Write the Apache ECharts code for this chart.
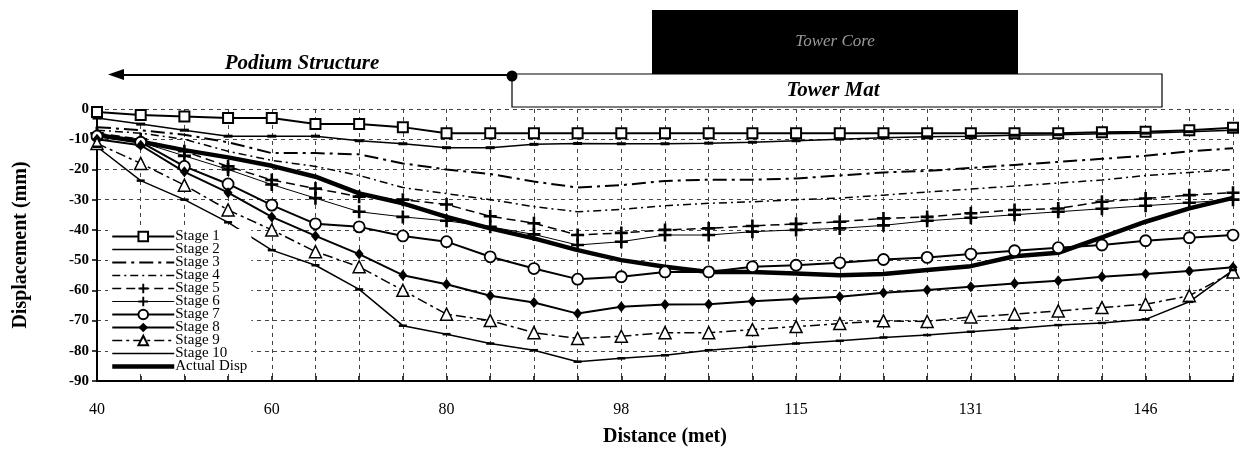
<!DOCTYPE html>
<html>
<head>
<meta charset="utf-8">
<script src="https://cdn.jsdelivr.net/npm/echarts@6/dist/echarts.min.js"></script>
<style>html,body{margin:0;padding:0;background:#fff}#c{width:1242px;height:452px}</style>
</head>
<body>
<div id="c"></div>
<script>
// Distance categories (only every 4th label is shown on the axis)
var distances = ['40','45','50','55','60','65','70','75','80','84','89','93','98','102','107','111','115','119','123','127','131','135','139','142','146','150','154'];
var yTicks = [0,-10,-20,-30,-40,-50,-60,-70,-80,-90];

var stage1 = [-1,-2,-2.5,-3,-3,-5,-5,-6,-8,-8,-8,-8,-8,-8,-8,-8,-8,-8,-8,-8,-8,-8,-8,-7.7,-7.5,-7,-6.2];
var stage2 = [-3,-5,-7,-9,-9,-9,-10.5,-11.5,-12.8,-12.8,-11.7,-11.4,-11.5,-11.5,-11.3,-11,-10.5,-10,-9.5,-9.2,-9,-8.7,-8.5,-8.2,-8,-7.5,-7];
var stage3 = [-6,-7,-8.5,-11,-14.6,-14.6,-15,-18,-20,-21.5,-24,-26,-25.2,-23.8,-23.4,-23.4,-23,-22,-21,-20.5,-19.5,-18.5,-17.5,-16.5,-15.5,-14,-13];
var stage4 = [-7,-8,-10,-14,-17,-19,-22,-26,-28,-30,-32.3,-34,-33.2,-32,-31.2,-30.7,-30,-29.5,-28.5,-27.5,-26.5,-25.5,-24.5,-23.5,-22,-21,-20];
var stage5 = [-8,-10,-14,-19,-23.5,-26.3,-29,-30,-31.6,-35.5,-37.8,-41.7,-41,-40,-39.5,-38.7,-38,-37.3,-36.2,-35.7,-34.5,-33.4,-32.9,-30.7,-29.6,-28.5,-27.7];
var stage6 = [-8,-11,-15.5,-20,-25,-29.5,-34,-35.7,-37,-39,-41.5,-45,-43.9,-41.7,-41.7,-40.6,-40,-39.5,-38.5,-37,-36,-35,-34,-33,-32,-31,-30];
var stage7 = [-9,-11,-19,-24.8,-31.8,-38,-39,-42,-43.9,-48.9,-52.8,-56.3,-55.5,-53.9,-53.9,-52.2,-51.7,-50.9,-49.8,-49.1,-48,-46.9,-45.9,-45,-43.6,-42.6,-41.7];
var stage8 = [-10,-12,-20.8,-27.7,-35.7,-42,-48,-55,-58,-61.8,-64,-67.7,-65.4,-64.7,-64.6,-63.6,-62.9,-62.1,-60.8,-59.9,-58.8,-57.7,-56.8,-55.5,-54.6,-53.6,-52.4];
var stage9 = [-11.4,-18,-25.2,-33.4,-40,-47.2,-52.2,-60,-67.9,-70,-74,-75.9,-75.2,-74,-74,-73,-72,-71,-70.1,-70.3,-68.8,-67.9,-66.8,-65.7,-64.6,-61.8,-53.9];
var stage10 = [-12.5,-23.7,-30,-37.5,-46.7,-51.7,-59.7,-71.7,-74.5,-77.6,-79.8,-83.6,-82.5,-81.5,-79.8,-78.7,-77.6,-76.7,-75.6,-74.8,-73.7,-72.6,-71.5,-70.8,-69.6,-63.8,-53.3];
var actualDisp = [-8.6,-10.8,-13.6,-16,-18.8,-22.4,-27.9,-31.2,-35.7,-39.5,-42.8,-46.7,-50,-52.2,-53.9,-53.9,-54.4,-55,-54.6,-53.3,-52,-48.7,-47.6,-42.5,-37.3,-32.9,-29.4];

var seriesNames = ['Stage 1','Stage 2','Stage 3','Stage 4','Stage 5','Stage 6','Stage 7','Stage 8','Stage 9','Stage 10','Actual Disp'];
var seriesData = [stage1,stage2,stage3,stage4,stage5,stage6,stage7,stage8,stage9,stage10,actualDisp];

var plusPath = 'path://M4,0H6V4H10V6H6V10H4V6H0V4H4Z';
var styles = [
  {w:2, t:'solid', sym:'rect', size:10, fill:'#fff', bw:2},
  {w:1.5, t:'solid', sym:'rect', size:[9,3], fill:'#000', bw:0, hideLeg:true},
  {w:2, t:[14,5,3,5], sym:'none', hideLeg:true},
  {w:1.5, t:[8,4,2,4], sym:'none', hideLeg:true},
  {w:1.5, t:[9,5], sym:plusPath, size:13, fill:'#000', bw:0},
  {w:1, t:'solid', sym:plusPath, size:13, fill:'#000', bw:0},
  {w:2, t:'solid', sym:'circle', size:11, fill:'#fff', bw:1.8},
  {w:2, t:'solid', sym:'diamond', size:[9,11], fill:'#000', bw:0},
  {w:1.5, t:[10,4,3,4], sym:'triangle', size:12, fill:'#fff', bw:1.5},
  {w:1.5, t:'solid', sym:'rect', size:[8,2.5], fill:'#000', bw:0, hideLeg:true},
  {w:4.5, t:'solid', sym:'none', hideLeg:true}
];

var series = seriesNames.map(function(n,i){
  var s = styles[i];
  return {
    name: n, type: 'line', data: seriesData[i],
    symbol: s.sym, symbolSize: s.size || 0, showSymbol: s.sym !== 'none',
    lineStyle: {color:'#000', width:s.w, type:s.t},
    itemStyle: {color: s.fill || '#000', borderColor:'#000', borderWidth: s.bw || 0},
    z: 3
  };
});

var legendData = seriesNames.map(function(n,i){
  var s = styles[i];
  var item = {name: n, lineStyle: {color:'#000', width: s.w, type: s.t}};
  if (s.hideLeg) item.itemStyle = {opacity: 0};
  return item;
});

var chart = echarts.init(document.getElementById('c'));
chart.setOption({
  animation: false,
  backgroundColor: '#fff',
  grid: {left: 97, right: 9, top: 109, bottom: 71},
  legend: {
    orient: 'vertical', left: 108, top: 229,
    itemWidth: 62, itemHeight: 12, itemGap: -2,
    backgroundColor: '#fff', padding: [0, 4, 0, 2],
    textStyle: {fontFamily: 'Liberation Serif', fontSize: 15, color: '#000', padding:[0,0,0,-4]},
    data: legendData
  },
  xAxis: {
    type: 'category', data: distances, boundaryGap: false,
    name: 'Distance (met)', nameLocation: 'middle', nameGap: 46,
    nameTextStyle: {fontFamily: 'Liberation Serif', fontWeight: 'bold', fontSize: 20, color: '#000'},
    axisLine: {onZero: false, lineStyle: {color: '#000', width: 2}},
    axisTick: {inside: true, length: 5, interval: 0, lineStyle: {color:'#000', width:1.5}},
    axisLabel: {interval: function(i){ return i % 4 === 0 && i <= 24; }, margin: 21, fontFamily: 'Liberation Serif', fontSize: 16, color: '#000'},
    splitLine: {show: true, interval: 0, lineStyle: {color: '#444', width: 1, type: [4,4]}}
  },
  yAxis: {
    type: 'value', min: -90, max: 0, interval: 10,
    name: 'Displacement (mm)', nameLocation: 'middle', nameGap: 66, nameRotate: 90,
    nameTextStyle: {fontFamily: 'Liberation Serif', fontWeight: 'bold', fontSize: 20, color: '#000'},
    axisLine: {show: true, lineStyle: {color: '#000', width: 2}},
    axisTick: {show: true, length: 5, lineStyle: {color:'#000', width:1.5}},
    axisLabel: {margin: 8, fontFamily: 'Liberation Serif', fontWeight: 'bold', fontSize: 15, color: '#000',
      formatter: function(v){ return yTicks.indexOf(v) >= 0 ? String(v) : ''; }},
    splitLine: {show: true, lineStyle: {color: '#444', width: 1, type: [4,4]}}
  },
  graphic: [
    {type:'rect', shape:{x:652, y:10, width:366, height:64}, style:{fill:'#000'}},
    {type:'text', x:835, y:42, style:{text:'Tower Core', fill:'#9a9a9a', font:'italic 17px "Liberation Serif"', textAlign:'center', textVerticalAlign:'middle'}},
    {type:'rect', shape:{x:512, y:74, width:650, height:33}, style:{fill:'#fff', stroke:'#000', lineWidth:1.2}},
    {type:'text', x:833, y:91, style:{text:'Tower Mat', fill:'#000', font:'italic bold 21px "Liberation Serif"', textAlign:'center', textVerticalAlign:'middle'}},
    {type:'line', shape:{x1:120, y1:75, x2:512, y2:75}, style:{stroke:'#000', lineWidth:2}},
    {type:'polygon', shape:{points:[[108,74.5],[124,69],[124,80]]}, style:{fill:'#000'}},
    {type:'circle', shape:{cx:512, cy:76, r:5.5}, style:{fill:'#000'}},
    {type:'text', x:302, y:64, style:{text:'Podium Structure', fill:'#000', font:'italic bold 21px "Liberation Serif"', textAlign:'center', textVerticalAlign:'middle'}}
  ],
  series: series
});
</script>
</body>
</html>
